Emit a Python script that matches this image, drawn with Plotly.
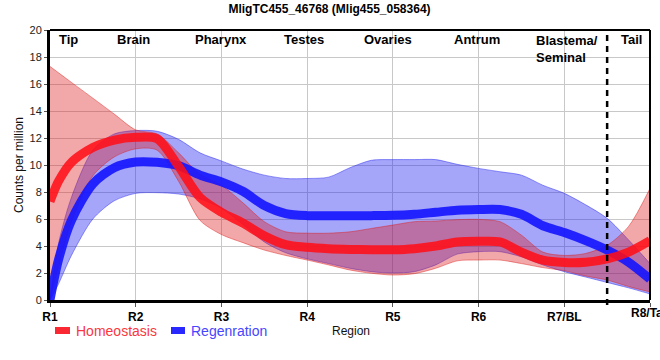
import plotly.graph_objects as go

# region positions (0 = R1 ... 7 = R8/Tail)
pos = [0, 0.1, 0.25, 0.5, 0.75, 1, 1.25, 1.5, 1.75, 2, 2.25, 2.5, 2.75, 3, 3.25, 3.5,
       3.75, 4, 4.25, 4.5, 4.75, 5, 5.25, 5.5, 5.75, 6, 6.25, 6.5, 6.75, 7]

homeo_mean = [7.3, 8.8, 10.2, 11.3, 11.85, 12.05, 11.95, 9.9, 7.6, 6.5, 5.7, 4.75, 4.1, 3.9,
              3.8, 3.75, 3.72, 3.72, 3.8, 4.0, 4.3, 4.35, 4.3, 3.55, 2.95, 2.78, 2.8, 3.05,
              3.55, 4.4]
homeo_upper = [17.3, 16.83, 16.12, 14.95, 13.77, 12.6, 12.3, 10.9, 9.3, 8.5, 7.2, 5.8, 5.05,
               4.95, 4.95, 5.05, 5.3, 5.55, 5.8, 5.85, 5.95, 5.97, 5.8, 4.8, 3.55, 3.3, 3.45,
               4.05, 5.45, 8.27]
homeo_lower = [0, 2.5, 5.8, 9.2, 10.6, 11.2, 11.1, 8.8, 5.9, 4.85, 4.25, 3.7, 3.3, 2.96, 2.6,
               2.22, 1.98, 1.85, 1.95, 2.35, 2.9, 2.96, 2.96, 2.7, 2.4, 2.17, 1.78, 1.48, 1.0,
               0.6]

regen_mean = [0, 3.0, 5.9, 8.6, 9.8, 10.22, 10.2, 9.95, 9.25, 8.75, 8.05, 7.0, 6.4, 6.25,
              6.25, 6.25, 6.25, 6.27, 6.35, 6.5, 6.65, 6.7, 6.7, 6.35, 5.5, 5.0, 4.4, 3.7,
              2.8, 1.55]
regen_upper = [0, 4.2, 7.6, 11.1, 12.3, 12.55, 12.5, 11.9, 10.9, 10.3, 9.7, 9.25, 9.0, 9.0,
               9.1, 9.8, 10.35, 10.4, 10.4, 10.4, 10.05, 9.75, 9.5, 9.25, 8.5, 7.9, 7.05,
               6.05, 4.45, 2.7]
regen_lower = [0, 1.2, 3.3, 6.0, 7.35, 7.9, 7.95, 7.85, 7.5, 6.8, 5.6, 4.3, 3.5, 3.05, 2.7,
               2.35, 2.1, 2.0, 2.1, 2.6, 3.4, 3.58, 3.58, 3.2, 2.6, 2.1, 1.7, 1.3, 0.9, 0.45]

tick_vals = [0, 1, 2, 3, 4, 5, 6, 7]
tick_text = ["R1", "R2", "R3", "R4", "R5", "R6", "R7/BL", "R8/Tail"]

tissue_names = ["Tip", "Brain", "Pharynx", "Testes", "Ovaries", "Antrum", "Blastema/<br>Seminal", "Tail"]
tissue_pos = [0.22, 0.97, 1.99, 2.96, 3.94, 4.98, 5.65, 6.78]
tissue_align = ["center", "center", "center", "center", "center", "center", "left", "center"]

boundary_pos = 6.5

fig = go.Figure()

def band(upper, lower, fillcol, edgecol):
    fig.add_trace(go.Scatter(x=pos, y=upper, mode="lines",
                             line=dict(color=edgecol, width=1, shape="spline", smoothing=0.8),
                             hoverinfo="skip", showlegend=False))
    fig.add_trace(go.Scatter(x=pos, y=lower, mode="lines", fill="tonexty", fillcolor=fillcol,
                             line=dict(color=edgecol, width=1, shape="spline", smoothing=0.8),
                             hoverinfo="skip", showlegend=False))

band(regen_upper, regen_lower, "rgba(30,30,240,0.40)", "rgba(30,30,240,0.45)")
band(homeo_upper, homeo_lower, "rgba(222,25,25,0.38)", "rgba(222,25,25,0.45)")

fig.add_trace(go.Scatter(x=pos, y=regen_mean, mode="lines", name="Regenration",
                         line=dict(color="rgba(20,20,255,0.9)", width=9, shape="spline", smoothing=0.8),
                         showlegend=False))
fig.add_trace(go.Scatter(x=pos, y=homeo_mean, mode="lines", name="Homeostasis",
                         line=dict(color="rgba(255,15,25,0.88)", width=9, shape="spline", smoothing=0.8),
                         showlegend=False))

annotations = []
for name, p, al in zip(tissue_names, tissue_pos, tissue_align):
    two = "<br>" in name
    annotations.append(dict(x=p, y=(300 - (31 if two else 39)) / 270, xref="x", yref="paper",
                            text="<b>%s</b>" % name,
                            showarrow=False, xanchor=al, yanchor="top" if two else "middle",
                            align="left",
                            font=dict(family="Liberation Sans, Arial", size=13, color="black")))

# last x tick label drawn as text so it may run past the page edge (clipped like the original)
annotations.append(dict(x=tick_vals[-1], y=(300 - 313) / 270, xref="x", yref="paper",
                        text="<b>%s</b>" % tick_text[-1], showarrow=False, xanchor="center",
                        yanchor="middle",
                        font=dict(family="Liberation Sans, Arial", size=12, color="black")))

annotations.append(dict(x=-31 / 600, y=0.5, xref="paper", yref="paper", text="Counts per million",
                        textangle=-90, showarrow=False, xanchor="center", yanchor="middle",
                        font=dict(family="Liberation Sans, Arial", size=12, color="#111")))
annotations.append(dict(x=(351 - 50) / 600, y=(300 - 331) / 270, xref="paper", yref="paper",
                        text="Region", showarrow=False, xanchor="center", yanchor="middle",
                        font=dict(family="Liberation Sans, Arial", size=12, color="#111")))
annotations.append(dict(x=(74 - 50) / 600, y=(300 - 330.5) / 270, xref="paper", yref="paper",
                        text="Homeostasis", showarrow=False, xanchor="left", yanchor="middle",
                        font=dict(family="Liberation Sans, Arial", size=14, color="rgb(250,55,65)")))
annotations.append(dict(x=(189 - 50) / 600, y=(300 - 330.5) / 270, xref="paper", yref="paper",
                        text="Regenration", showarrow=False, xanchor="left", yanchor="middle",
                        font=dict(family="Liberation Sans, Arial", size=14, color="rgb(70,70,255)")))

shapes = [
    dict(type="line", x0=boundary_pos, x1=boundary_pos, xref="x", y0=-5 / 270, y1=1, yref="paper",
         line=dict(color="black", width=2.5, dash="6px,5px")),
    dict(type="line", x0=0, x1=1, xref="paper", y0=1, y1=1, yref="paper",
         line=dict(color="black", width=2)),
    dict(type="line", x0=1, x1=1, xref="paper", y0=0, y1=1, yref="paper",
         line=dict(color="black", width=2)),
    dict(type="rect", x0=(55 - 50) / 600, x1=(70 - 50) / 600, y0=(300 - 334) / 270, y1=(300 - 327) / 270,
         xref="paper", yref="paper", fillcolor="rgb(250,40,50)", line=dict(width=0)),
    dict(type="rect", x0=(171 - 50) / 600, x1=(185 - 50) / 600, y0=(300 - 334) / 270, y1=(300 - 327) / 270,
         xref="paper", yref="paper", fillcolor="rgb(40,40,255)", line=dict(width=0)),
]

fig.update_layout(
    width=660, height=360,
    margin=dict(l=50, r=10, t=30, b=60),
    paper_bgcolor="white", plot_bgcolor="white",
    title=dict(text="<b>MligTC455_46768 (Mlig455_058364)</b>", x=329.5 / 660, xanchor="center",
               y=1 - 8.5 / 360, yanchor="middle",
               font=dict(family="Liberation Sans, Arial", size=12, color="black")),
    xaxis=dict(range=[0, 7], tickvals=tick_vals,
               ticktext=["<b>%s</b>" % t for t in tick_text[:-1]] + [""],
               showgrid=True, gridcolor="#c8c8c8", gridwidth=1, zeroline=False,
               showline=True, linecolor="black", linewidth=3, ticks="outside", ticklen=4,
               tickcolor="#555", automargin=False,
               tickfont=dict(family="Liberation Sans, Arial", size=12, color="black")),
    yaxis=dict(range=[0, 20], tickvals=list(range(0, 21, 2)),
               showgrid=True, gridcolor="#c8c8c8", gridwidth=1, zeroline=False,
               showline=True, linecolor="black", linewidth=3, ticks="outside", ticklen=3,
               tickcolor="#555", automargin=False,
               tickfont=dict(family="Liberation Sans, Arial", size=11, color="#222")),
    showlegend=False,
    annotations=annotations,
    shapes=shapes,
)

fig.write_html("out.html", config={"displayModeBar": False},
               post_script="document.body.style.margin='0';document.body.style.overflow='hidden';")
